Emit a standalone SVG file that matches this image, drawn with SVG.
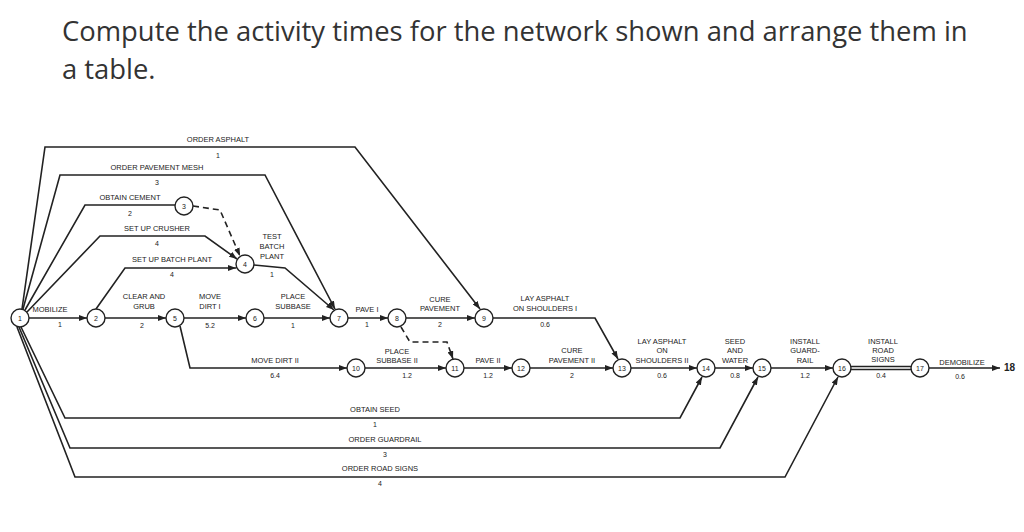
<svg xmlns="http://www.w3.org/2000/svg" width="1024" height="532" viewBox="0 0 1024 532">
<style>
.t{font-family:"Open Sans",sans-serif;font-size:27.4px;fill:#333}
.l{font-family:"Liberation Sans",Arial,sans-serif;font-size:7.5px;fill:#222;text-anchor:middle}
.n{font-family:"Liberation Sans",Arial,sans-serif;font-size:7px;fill:#222;text-anchor:middle}
.c{fill:#fff;stroke:#222;stroke-width:1.4}
.e{fill:none;stroke:#222;stroke-width:1.6}
.d{fill:none;stroke:#222;stroke-width:1.6;stroke-dasharray:6,4}
</style>
<defs><marker id="a" markerWidth="8" markerHeight="6" refX="8" refY="3" orient="auto" markerUnits="userSpaceOnUse"><path d="M0,0L8,3L0,6z" fill="#222"/></marker></defs>
<rect width="1024" height="532" fill="#fff"/>
<text class="t" x="62" y="41">Compute the activity times for the network shown and arrange them in</text>
<text class="t" x="62" y="79">a table.</text>
<g id="connectors">
<path class="e" d="M22,309L45,147H355L480,309" marker-end="url(#a)"/>
<path class="e" d="M23,309L60,175H265L335,309" marker-end="url(#a)"/>
<path class="e" d="M25,310L85,205H175"/>
<path class="d" d="M193,206L220,210L240,256" marker-end="url(#a)"/>
<path class="e" d="M27,312L100,236H205L237,259" marker-end="url(#a)"/>
<path class="e" d="M96,309L125,268H236" marker-end="url(#a)"/>
<path class="e" d="M254,265L285,268L334,310" marker-end="url(#a)"/>
<path class="e" d="M29,318H87" marker-end="url(#a)"/>
<path class="e" d="M105,318H166" marker-end="url(#a)"/>
<path class="e" d="M184,318H246" marker-end="url(#a)"/>
<path class="e" d="M264,318H330" marker-end="url(#a)"/>
<path class="e" d="M348,318H388" marker-end="url(#a)"/>
<path class="e" d="M406,318H475" marker-end="url(#a)"/>
<path class="e" d="M493,318H595L618,359" marker-end="url(#a)"/>
<path class="e" d="M180,326L190,368H347" marker-end="url(#a)"/>
<path class="d" d="M401,327L410,342H447L453,359" marker-end="url(#a)"/>
<path class="e" d="M365,368H446" marker-end="url(#a)"/>
<path class="e" d="M464,368H512" marker-end="url(#a)"/>
<path class="e" d="M530,368H613" marker-end="url(#a)"/>
<path class="e" d="M631,368H697" marker-end="url(#a)"/>
<path class="e" d="M715,368H753" marker-end="url(#a)"/>
<path class="e" d="M771,368H833" marker-end="url(#a)"/>
<path class="e" d="M851,366.5H911M851,369.5H911"/>
<path class="e" d="M929,368H1000" marker-end="url(#a)"/>
<path class="e" d="M21,327L65,418H680L702,377" marker-end="url(#a)"/>
<path class="e" d="M19,327L70,448H720L758,377" marker-end="url(#a)"/>
<path class="e" d="M17,327L75,477H785L838,377" marker-end="url(#a)"/>
</g>
<g id="n1"><circle class="c" cx="20" cy="318" r="9"/><text class="n" x="20" y="321">1</text></g>
<g id="n2"><circle class="c" cx="96" cy="318" r="9"/><text class="n" x="96" y="321">2</text></g>
<g id="n3"><circle class="c" cx="184" cy="206" r="9"/><text class="n" x="184" y="209">3</text></g>
<g id="n4"><circle class="c" cx="245" cy="264" r="9"/><text class="n" x="245" y="267">4</text></g>
<g id="n5"><circle class="c" cx="175" cy="318" r="9"/><text class="n" x="175" y="321">5</text></g>
<g id="n6"><circle class="c" cx="255" cy="318" r="9"/><text class="n" x="255" y="321">6</text></g>
<g id="n7"><circle class="c" cx="339" cy="318" r="9"/><text class="n" x="339" y="321">7</text></g>
<g id="n8"><circle class="c" cx="397" cy="318" r="9"/><text class="n" x="397" y="321">8</text></g>
<g id="n9"><circle class="c" cx="484" cy="318" r="9"/><text class="n" x="484" y="321">9</text></g>
<g id="n10"><circle class="c" cx="356" cy="368" r="9"/><text class="n" x="356" y="371">10</text></g>
<g id="n11"><circle class="c" cx="455" cy="368" r="9"/><text class="n" x="455" y="371">11</text></g>
<g id="n12"><circle class="c" cx="521" cy="368" r="9"/><text class="n" x="521" y="371">12</text></g>
<g id="n13"><circle class="c" cx="622" cy="368" r="9"/><text class="n" x="622" y="371">13</text></g>
<g id="n14"><circle class="c" cx="706" cy="368" r="9"/><text class="n" x="706" y="371">14</text></g>
<g id="n15"><circle class="c" cx="762" cy="368" r="9"/><text class="n" x="762" y="371">15</text></g>
<g id="n16"><circle class="c" cx="842" cy="368" r="9"/><text class="n" x="842" y="371">16</text></g>
<g id="n17"><circle class="c" cx="920" cy="368" r="9"/><text class="n" x="920" y="371">17</text></g>
<g id="n18"><text x="1004" y="371" font-family="Liberation Sans,Arial,sans-serif" font-size="10" font-weight="bold" fill="#222">18</text></g>
<g id="labels">
<text class="l" x="218" y="142">ORDER ASPHALT</text><text class="n" x="218" y="158">1</text>
<text class="l" x="157" y="170">ORDER PAVEMENT MESH</text><text class="n" x="157" y="185">3</text>
<text class="l" x="130" y="200">OBTAIN CEMENT</text><text class="n" x="130" y="216">2</text>
<text class="l" x="157" y="231">SET UP CRUSHER</text><text class="n" x="157" y="246">4</text>
<text class="l" x="172" y="262">SET UP BATCH PLANT</text><text class="n" x="172" y="277">4</text>
<text class="l" x="272" y="239">TEST</text><text class="l" x="272" y="249">BATCH</text><text class="l" x="272" y="259">PLANT</text><text class="n" x="272" y="277">1</text>
<text class="l" x="50" y="312">MOBILIZE</text><text class="n" x="60" y="327">1</text>
<text class="l" x="144" y="299">CLEAR AND</text><text class="l" x="144" y="309">GRUB</text><text class="n" x="142" y="328">2</text>
<text class="l" x="210" y="299">MOVE</text><text class="l" x="210" y="309">DIRT I</text><text class="n" x="210" y="328">5.2</text>
<text class="l" x="293" y="299">PLACE</text><text class="l" x="293" y="309">SUBBASE</text><text class="n" x="293" y="328">1</text>
<text class="l" x="367" y="312">PAVE I</text><text class="n" x="367" y="327">1</text>
<text class="l" x="440" y="302">CURE</text><text class="l" x="440" y="311">PAVEMENT</text><text class="n" x="440" y="327">2</text>
<text class="l" x="545" y="301">LAY ASPHALT</text><text class="l" x="545" y="311">ON SHOULDERS I</text><text class="n" x="545" y="327">0.6</text>
<text class="l" x="275" y="363">MOVE DIRT II</text><text class="n" x="275" y="378">6.4</text>
<text class="l" x="397" y="354">PLACE</text><text class="l" x="397" y="363">SUBBASE II</text><text class="n" x="407" y="378">1.2</text>
<text class="l" x="488" y="363">PAVE II</text><text class="n" x="488" y="378">1.2</text>
<text class="l" x="572" y="353">CURE</text><text class="l" x="572" y="363">PAVEMENT II</text><text class="n" x="572" y="378">2</text>
<text class="l" x="662" y="344">LAY ASPHALT</text><text class="l" x="662" y="353">ON</text><text class="l" x="662" y="363">SHOULDERS II</text><text class="n" x="662" y="378">0.6</text>
<text class="l" x="735" y="344">SEED</text><text class="l" x="735" y="353">AND</text><text class="l" x="735" y="363">WATER</text><text class="n" x="735" y="378">0.8</text>
<text class="l" x="805" y="344">INSTALL</text><text class="l" x="805" y="353">GUARD-</text><text class="l" x="805" y="363">RAIL</text><text class="n" x="805" y="378">1.2</text>
<text class="l" x="883" y="344">INSTALL</text><text class="l" x="883" y="353">ROAD</text><text class="l" x="883" y="362">SIGNS</text><text class="n" x="881" y="378">0.4</text>
<text class="l" x="962" y="365">DEMOBILIZE</text><text class="n" x="960" y="379">0.6</text>
<text class="l" x="375" y="412">OBTAIN SEED</text><text class="n" x="375" y="427">1</text>
<text class="l" x="385" y="442">ORDER GUARDRAIL</text><text class="n" x="385" y="457">3</text>
<text class="l" x="380" y="471">ORDER ROAD SIGNS</text><text class="n" x="380" y="486">4</text>
</g>
</svg>
